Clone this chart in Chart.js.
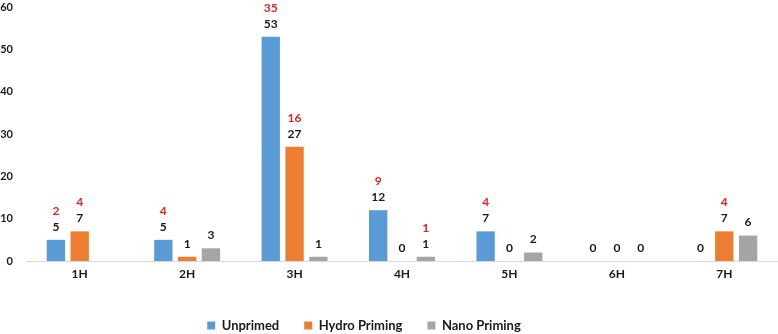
<!DOCTYPE html>
<html>
<head>
<meta charset="utf-8">
<script src="https://cdn.jsdelivr.net/npm/chart.js@4/dist/chart.umd.min.js"></script>
<style>
html,body{margin:0;padding:0;background:#fff;}
#wrap{width:778px;height:334px;position:relative;}
</style>
</head>
<body>
<div id="wrap"><canvas id="c" width="778" height="334"></canvas></div>
<script>
const categories = ["1H","2H","3H","4H","5H","6H","7H"];
const seriesNames = ["Unprimed","Hydro Priming","Nano Priming"];
const unprimed = [5,5,53,12,7,0,0];
const hydroPriming = [7,1,27,0,0,0,7];
const nanoPriming = [null,3,1,1,2,0,6];
const unprimedRed = [2,4,35,9,4,null,null];
const hydroRed = [4,null,16,null,null,null,4];
const nanoRed = [null,null,null,1,null,null,null];
const yTicks = [0,10,20,30,40,50,60];

const colors = ["#5B9BD5","#ED7D31","#A5A5A5"];
const redLabels = [unprimedRed, hydroRed, nanoRed];
const FONT = "Lato";

const labelPlugin = {
  id: 'valLabels',
  afterLayout(chart) {
    const lg = chart.legend;
    if (lg) { lg.left -= 25; lg.right -= 25; }
  },
  afterDatasetsDraw(chart) {
    const ctx = chart.ctx;
    ctx.save();
    ctx.font = "bold 12px " + FONT;
    ctx.textAlign = "center";
    ctx.textBaseline = "middle";
    chart.data.datasets.forEach((ds, di) => {
      const meta = chart.getDatasetMeta(di);
      meta.data.forEach((bar, i) => {
        const v = ds.data[i];
        if (v === null || v === undefined) return;
        const top = bar.y;
        ctx.fillStyle = "#1a1a1a";
        ctx.fillText(String(v), bar.x, top - 13);
        const r = redLabels[di][i];
        if (r !== null && r !== undefined) {
          ctx.fillStyle = "#E02424";
          ctx.fillText(String(r), bar.x, top - 29);
        }
      });
    });
    ctx.restore();
  }
};

new Chart(document.getElementById('c'), {
  type: 'bar',
  data: {
    labels: categories,
    datasets: [
      {label: seriesNames[0], data: unprimed, backgroundColor: colors[0]},
      {label: seriesNames[1], data: hydroPriming, backgroundColor: colors[1]},
      {label: seriesNames[2], data: nanoPriming, backgroundColor: colors[2]}
    ]
  },
  options: {
    responsive: false,
    animation: false,
    layout: {padding: {top: 0, right: 0, bottom: -8, left: 0}},
    datasets: {bar: {categoryPercentage: 0.665, barPercentage: 0.77}},
    plugins: {
      legend: {
        position: 'bottom',
        labels: {
          boxWidth: 8, boxHeight: 8, padding: 25,
          color: "#1a1a1a",
          font: {family: FONT, size: 13, weight: 'bold'}
        }
      },
      tooltip: {enabled: false}
    },
    scales: {
      x: {
        grid: {display: false, drawTicks: false},
        border: {display: true, color: "#d9d9d9", width: 1},
        afterFit(scale) { scale.height = 33; },
        ticks: {padding: 6, color: "#1a1a1a", font: {family: FONT, size: 12, weight: 'bold'}}
      },
      y: {
        min: 0, max: 60,
        afterBuildTicks(scale) { scale.ticks = yTicks.map(v => ({value: v})); },
        afterFit(scale) { scale.width = 26; scale.paddingTop = 7; scale.paddingBottom = 0; },
        grid: {display: false, drawTicks: false},
        border: {display: false},
        ticks: {padding: 13, color: "#1a1a1a", font: {family: FONT, size: 11, weight: 'bold'}}
      }
    }
  },
  plugins: [labelPlugin]
});
</script>
</body>
</html>
